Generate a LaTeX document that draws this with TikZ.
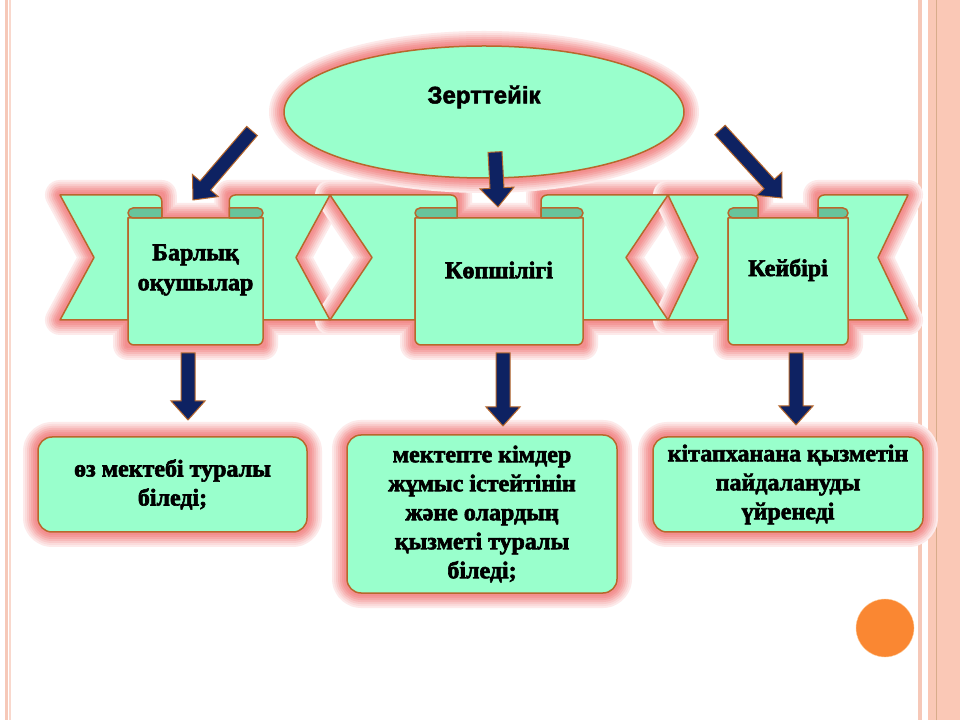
\documentclass[tikz,border=0pt]{standalone}
\usepackage{fontspec}
\setmainfont{Liberation Serif}[BoldFeatures={FakeBold=2.5}]
\newfontfamily\zfont{Liberation Sans}[BoldFeatures={FakeBold=2}]
\usetikzlibrary{calc,shapes.geometric}

\definecolor{mint}{RGB}{153,255,204}
\definecolor{rollgreen}{RGB}{104,196,156}
\definecolor{brownline}{RGB}{184,104,44}
\definecolor{glowred}{RGB}{236,80,80}
\definecolor{navy}{RGB}{14,34,98}
\definecolor{stripe}{RGB}{246,200,184}
\definecolor{stripeb}{RGB}{250,200,182}
\definecolor{dot}{RGB}{250,135,50}

\tikzset{
  glow/.style={preaction={draw=glowred!12, line width=30pt, line join=round},
               preaction={draw=glowred!20, line width=26pt, line join=round},
               preaction={draw=glowred!30, line width=22pt, line join=round},
               preaction={draw=glowred!40, line width=18pt, line join=round},
               preaction={draw=glowred!50, line width=14pt, line join=round},
               preaction={draw=glowred!58, line width=10pt, line join=round},
               preaction={draw=glowred!64, line width=6pt, line join=round}},
  band/.style={draw=brownline, fill=mint, line width=1.5pt, line join=round},
  roll/.style={draw=brownline, fill=rollgreen, line width=1.5pt, line join=round},
  infobox/.style={rectangle, rounded corners=14pt, draw=brownline, fill=mint, line width=1.5pt,
                  align=center, font=\bfseries\fontsize{24}{29}\selectfont},
  tag/.style={align=center, font=\bfseries\fontsize{24}{30}\selectfont},
  arrowbox/.style={draw=brownline, fill=navy, line width=1pt}
}

% ribbon: #1 left end, #2 panel left, #3 panel right, #4 right end, #5 notch
\newcommand{\ribbonglow}[5]{%
  \pgfmathsetmacro\ca{#2+(#3-#2)/4}
  \pgfmathsetmacro\cb{#3-(#3-#2)/4}
  \path[glow] (#1,525) -- (\ca,525) -- (\ca,502) -- (\cb,502) -- (\cb,525) -- (#4,525)
    -- (#4-#5,462.5) -- (#4,400) -- (#3,400) -- (#3,375) -- (#2,375) -- (#2,400)
    -- (#1,400) -- (#1+#5,462.5) -- cycle;
}
\newcommand{\ribbon}[5]{%
  \pgfmathsetmacro\ca{#2+(#3-#2)/4}
  \pgfmathsetmacro\cb{#3-(#3-#2)/4}
  % wings
  \draw[band] (#1,525) -- (\ca-8,525) [rounded corners=6pt] -- (\ca,525) -- (\ca,512) [sharp corners]
    -- (\ca,502) -- (#2,502) -- (#2,400) -- (#1,400) -- (#1+#5,462.5) -- cycle;
  \draw[band] (#4,525) -- (\cb+8,525) [rounded corners=6pt] -- (\cb,525) -- (\cb,512) [sharp corners]
    -- (\cb,502) -- (#3,502) -- (#3,400) -- (#4,400) -- (#4-#5,462.5) -- cycle;
  % panel
  \draw[band] (#2,502) -- (#2,390) [rounded corners=6pt] -- (#2,375) -- (#3,375) -- (#3,390)
    [sharp corners] -- (#3,502) -- cycle;
  % rolls
  \draw[roll] (\ca,512) -- (#2+5,512) arc[start angle=90, end angle=270, radius=5] -- (\ca,502) -- cycle;
  \draw[roll] (\cb,512) -- (#3-5,512) arc[start angle=90, end angle=-90, radius=5] -- (\cb,502) -- cycle;
}
% block arrow from #1 to #2
\newcommand{\blockarrow}[2]{%
  \path ($(#2)!19pt!(#1)$) coordinate (hb);
  \draw[arrowbox] ($(#1)!7pt!90:(#2)$) -- ($(hb)!7pt!90:(#2)$) -- ($(hb)!17pt!90:(#2)$) -- (#2)
    -- ($(hb)!17pt!-90:(#2)$) -- ($(hb)!7pt!-90:(#2)$) -- ($(#1)!7pt!-90:(#2)$) -- cycle;
}

\begin{document}
\begin{tikzpicture}[x=1pt, y=1pt]
\useasboundingbox (0,0) rectangle (960,720);
\fill[white] (0,0) rectangle (960,720);

% page stripes
\fill[stripe] (5,0) rectangle (8,720);
\fill[stripe!70] (9,0) rectangle (11,720);
\fill[stripe] (918,0) rectangle (922,720);
\fill[stripeb] (928,0) rectangle (960,720);
\draw[brownline!55, line width=1pt] (936.5,0) -- (936.5,720);

% ribbons
\ribbonglow{60}{128}{263}{330}{34}
\ribbonglow{330}{415}{583}{668}{42}
\ribbonglow{668}{728}{848}{908}{30}
\ribbon{60}{128}{263}{330}{34}
\ribbon{330}{415}{583}{668}{42}
\ribbon{668}{728}{848}{908}{30}

\node[tag] (lab1) at (195.5,450) {Барлық\\оқушылар};
\node[tag] (lab2) at (499,450) {Көпшілігі};
\node[tag] (lab3) at (788,450) {Кейбірі};

% top ellipse
\node[ellipse, glow, draw=brownline, fill=mint, line width=1.5pt,
      minimum width=400pt, minimum height=132pt] (zert) at (484,608) {};
\node[font=\zfont\bfseries\fontsize{24}{28}\selectfont] (zerttext) at (484,623) {Зерттейік};

% bottom boxes
\node[infobox, glow, minimum width=269pt, minimum height=95pt] (b1) at (172.5,235.5)
  {өз мектебі туралы\\біледі;};
\node[infobox, glow, minimum width=270pt, minimum height=158pt] (b2) at (482,206)
  {мектепте кімдер\\жұмыс істейтінін\\және олардың\\қызметі туралы\\біледі;};
\node[infobox, glow, minimum width=270pt, minimum height=95pt] (b3) at (788,235.5)
  {кітапханана қызметін\\пайдалануды\\үйренеді};

% arrows
\coordinate (t1) at (252,589); \coordinate (h1) at (193,520);
\coordinate (t2) at (495,568); \coordinate (h2) at (498,513);
\coordinate (t3) at (720,590); \coordinate (h3) at (782,522);
\coordinate (t4) at (188,367); \coordinate (h4) at (188,300);
\coordinate (t5) at (503,367); \coordinate (h5) at (503,294);
\coordinate (t6) at (796,367); \coordinate (h6) at (796,295);
\foreach \s/\e in {t1/h1, t2/h2, t3/h3, t4/h4, t5/h5, t6/h6}
  \blockarrow{\s}{\e};

% corner dot
\fill[dot, draw=orange!40] (885,92) circle[radius=29];

\end{tikzpicture}
\end{document}
